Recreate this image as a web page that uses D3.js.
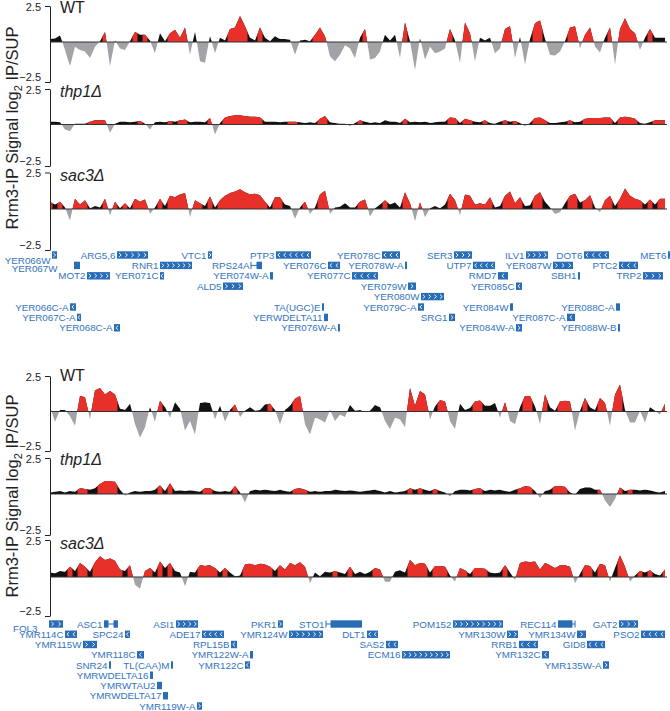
<!DOCTYPE html>
<html><head><meta charset="utf-8">
<script src="https://cdn.jsdelivr.net/npm/d3@7"></script>
<style>
body{margin:0;background:#fff}
svg{display:block;font-family:"Liberation Sans",Arial,Helvetica,sans-serif}
</style>
</head><body>
<svg id="c" width="670" height="711"></svg>
<script>
// ---------------- DATA ----------------
// Signal sampled every 5 units starting at position 50 (log2 IP/SUP)
const posStart = 50, posStep = 5;
const trackNames = ["WT", "thp1Δ", "sac3Δ"];
const tickValues = [-2.5, 2.5];

// Panel 1 (chromosome V region)
const wt1 = [0.2,0.25,0.45,-0.5,-1.5,-0.3,-0.5,-0.6,-1.0,-0.3,
  0.05,0.7,-1.5,0.1,-0.4,-0.5,0.05,0.7,0.5,0.5,
  0.1,-0.7,0.6,0.05,0.6,0.85,0.3,1.0,-0.8,0.7,
  -1.2,-1.3,0.4,-0.7,0.3,0.1,0.9,1.0,1.8,1.1,
  0.3,0.1,1.0,0.3,0.05,0.4,0.2,0.2,0.15,-0.8,
  0.1,0.15,0.05,0.5,1.0,0.4,-0.9,-1.2,-0.8,-0.2,
  -0.4,-1.0,0.3,0.9,-1.1,-1.0,-0.6,0.5,0.1,0.5,
  -1.0,1.35,0.05,-1.75,0.25,-1.1,-0.3,-0.7,-0.6,-0.4,
  0.9,0.1,-1.3,1.35,0.6,-1.2,0.3,0.1,0.3,-0.7,
  -0.4,0.9,1.1,-1.0,0.35,-1.4,0.2,1.3,1.5,0.2,
  -0.8,-0.85,-0.6,0.05,1.0,1.1,-0.4,0.5,1.0,-0.3,
  -0.65,0.3,1.0,-1.4,0.9,1.65,0.9,0.6,-0.5,0.3,
  0.9,0.3,0.3,0.3];
const wt1Sig = "kkk......." + "kr.k..krkr" + "k.kkrrrr.k" + "..k.kkrrrr" + "kkrkkkkkk." +
  "kkkrrr...." + "..kr...kkk" + ".rk.k....." + "rk.rr.kkk." + ".rr.k.krrk" +
  "...krr.rr." + ".kr.rrrr.k" + "rkkk";

const thp1 = [0.2,0.2,0.15,-0.3,-0.4,0.05,0.05,0.05,0.2,0.3,
  0.3,0.3,-0.5,0.05,0.2,0.2,0.15,0.2,0.25,0.05,
  -0.3,0.15,0.2,0.15,0.25,0.2,0.3,0.35,0.15,0.2,
  0.2,0.15,0.45,-0.6,0.1,0.5,0.6,0.65,0.65,0.6,
  0.55,0.55,0.5,0.2,0.2,0.2,0.15,0.2,0.2,0.2,
  0.15,0.1,0.15,0.1,0.4,0.6,0.15,0.1,0.05,0.05,
  -0.1,0.1,0.3,0.2,0.1,0.15,0.1,0.3,0.2,0.2,
  0.1,0.4,0.15,0.2,0.15,0.2,0.1,0.15,0.2,0.2,
  0.5,0.45,0.1,0.4,0.3,0.2,0.15,0.3,0.1,0.05,
  0.2,0.3,0.2,0.25,0.1,-0.1,0.1,0.45,0.5,0.3,
  0.1,0.1,0.15,0.2,0.3,0.15,0.2,0.4,0.45,0.45,
  0.45,0.5,0.5,0.1,0.5,0.55,0.5,0.4,0.1,0.05,
  0.15,0.3,0.3,0.3];
const thp1Sig = "kkk..kkkrr" + "rr.kkkkkrk" + ".kkkrkrrkk" + "kkr.krrrrr" + "rrrkkkkkrr" +
  "kkkkrrkkkk" + ".krkkkkkkk" + "krkkkkkkkk" + "rrkrrkkrkk" + "krkrk.krrr" +
  "kkkkrkkrrr" + "rrrkrrrrkk" + "krrr";

const sac1 = [0.5,0.3,0.5,0.1,-0.7,0.7,0.3,0.6,0.05,0.2,
  0.1,0.7,-0.4,0.5,0.05,0.4,0.05,0.7,0.5,0.65,
  -0.3,0.1,0.7,0.2,0.9,0.8,1.0,1.1,-0.5,0.6,
  0.4,0.2,0.85,0.1,0.6,0.9,1.1,1.2,1.35,1.15,
  1.0,1.05,0.95,0.5,0.1,0.8,0.8,0.3,0.2,-0.6,
  0.1,0.5,-0.3,0.1,1.0,1.25,-0.3,0.1,0.15,0.4,
  0.1,0.1,0.5,0.65,-0.45,0.05,0.3,0.6,0.3,0.45,
  0.1,1.15,0.4,-0.75,0.45,-0.5,0.05,0.2,0.05,0.3,
  1.05,0.6,-0.4,1.0,0.9,0.3,0.4,0.3,0.8,0.1,
  0.2,0.9,1.2,0.4,0.8,0.2,0.25,0.9,1.15,0.5,
  0.1,-0.3,-0.2,0.4,0.9,1.05,0.45,0.6,0.95,0.1,
  -0.2,0.6,0.9,0.2,0.7,1.4,0.9,0.7,0.6,0.3,
  0.65,0.3,0.7,0.7];
const sac1Sig = "rkrk.rrrkk" + "kr.rkrkrrr" + ".krkrrrr.r" + "rkrkrrrrrr" + "rrrrkrrkk." +
  "kr.krr.kkk" + "kkrr.kkrkk" + "krr.r.kkkk" + "rr.rrrrrrk" + "krrrrkkrrk" +
  "k..krrkrrk" + ".rrkrrrrrk" + "rkrr";

// Panel 2 (chromosome XIII region)
const wt2 = [0.3,-0.65,0.1,0.1,-0.3,-0.9,1.1,1.0,-0.5,1.5,
  1.65,1.2,1.45,1.2,0.2,0.1,0.55,-0.8,-1.65,-1.0,
  0.3,-0.65,0.75,0.3,-0.4,0.65,0.2,-1.2,-0.6,-1.45,
  0.6,0.65,0.6,-0.5,0.4,-0.65,0.1,0.5,-0.35,0.05,
  0.3,0.05,0.1,0.5,0.55,0.1,-0.8,0.1,0.4,0.9,
  1.1,-0.8,-1.45,-0.4,-0.5,-0.7,0.1,-0.6,-0.2,-0.35,
  0.45,0.05,0.1,-0.05,0.05,0.45,0.3,-0.6,-1.1,-0.4,
  -0.5,-1.0,1.65,0.4,1.45,1.2,-0.5,0.35,0.8,0.7,
  -0.6,-1.1,0.55,0.1,0.25,0.7,0.78,0.4,0.4,0.6,
  -0.4,0.65,-0.6,-0.8,0.3,1.1,1.1,0.35,-0.8,1.2,
  0.3,0.05,0.7,0.75,0.7,-1.2,0.05,0.95,0.3,0.1,
  0.95,0.6,-0.9,1.2,1.9,0.1,-0.7,-0.7,0.05,-0.7,
  0.3,0.05,-0.2,0.55];
const wt2Sig = "k.kk..rr.r" + "rrrrkkk..." + "k.rk.kk..." + "kkk.k.kr.k" + "kkkkrk.kkr" +
  "r.....k..." + "kkk.kkk..." + "..rrrr.krr" + "..kkkrrkkk" + ".r..krrk.r" +
  "kkrrr.krkk" + "rr.rrk..k." + "kk.r";

const thp2 = [0.1,0.15,0.2,0.1,0.2,0.15,0.4,0.35,0.3,0.4,
  0.7,0.9,0.9,0.85,0.3,-0.1,0.1,0.2,0.15,0.2,
  0.2,0.3,0.6,0.2,0.75,0.2,0.25,0.2,0.25,0.2,
  0.15,0.4,0.4,0.2,0.15,0.2,0.15,0.55,0.1,-0.5,
  0.2,0.3,0.25,0.3,0.25,0.2,0.3,0.2,0.15,0.35,
  0.4,0.3,0.15,0.2,0.15,0.2,0.2,0.3,0.25,0.2,
  0.25,0.2,0.15,0.2,0.25,0.3,0.2,0.1,0.2,0.1,
  0.15,0.2,0.4,0.3,0.4,0.3,0.2,0.35,0.2,0.1,
  -0.15,0.2,0.3,0.3,0.25,0.35,0.4,0.2,0.3,0.25,
  0.3,0.2,0.15,0.3,0.4,0.55,0.5,0.2,-0.25,0.2,
  0.3,0.55,0.55,0.5,0.1,-0.05,0.35,0.45,0.45,0.3,
  0.3,-0.4,-0.8,-0.3,0.45,0.2,0.3,0.3,0.25,0.3,
  0.25,0.15,0.1,0.2];
const thp2Sig = "kkkkkkrrkk" + "rrrrk.kkkk" + "kkrkrkkkkk" + "krrkkkkrk." + "kkkkkkkkkr" +
  "rrkkkkkkkk" + "kkkkkkkkkk" + "kkrkrkkrkk" + ".kkkkrrkkk" + "kkkkrrrk.k" +
  "krrrk.kkkk" + "r...rkrkkk" + "kkkk";

const sac2 = [0.3,0.25,0.4,0.35,0.7,0.4,0.95,0.7,0.35,1.0,
  1.4,1.15,1.25,1.1,0.5,0.4,0.8,-0.5,-0.75,0.4,
  0.6,0.3,1.05,0.6,0.95,0.4,0.3,-0.6,0.35,0.3,
  0.8,0.75,0.8,0.6,0.3,0.6,0.3,0.05,0.1,0.85,
  0.9,0.8,0.9,0.85,0.7,0.4,0.8,0.5,0.95,0.8,
  1.0,0.7,-0.4,0.3,0.05,0.35,0.3,0.4,0.3,0.2,
  0.7,0.2,0.35,0.2,0.35,0.6,0.5,-0.3,-0.3,0.35,
  0.45,0.3,1.15,0.8,0.95,0.9,0.3,0.75,0.75,0.7,
  0.1,-0.3,0.6,0.45,0.2,0.6,0.6,0.55,0.3,0.25,
  0.3,0.8,0.3,-0.2,0.95,1.05,1.0,1.05,0.5,0.95,
  0.8,0.6,0.8,0.8,0.7,-0.4,0.2,0.8,0.75,0.3,
  0.9,0.8,-0.3,0.6,1.45,0.7,-0.3,0.1,0.4,0.3,
  0.45,0.2,0.1,0.5];
const sac2Sig = "kkkkrkrrkr" + "rrrrrkr..r" + "rkrkrkk.kk" + "rrrrkrkkkr" + "rrrrrkrrrr" +
  "rr.kkkkrkk" + "rkkkkrr..k" + "kkrrrrkrrr" + "k.rrkrrrkk" + "krk.rrrrrr" +
  "rrrrr.krrk" + "rr.krr.krk" + "rkkr";

// Genes, panel 1
const g1Name   = ["YER066W","ARG5,6","VTC1","PTP3","YER078C","SER3","ILV1","DOT6","MET6",
  "YER067W","RNR1","RPS24A","YER076C","YER078W-A","UTP7","YER087W","PTC2",
  "MOT2","YER071C","YER074W-A","YER077C","RMD7","SBH1","TRP2",
  "ALD5","YER079W","YER085C","YER080W",
  "YER066C-A","TA(UGC)E","YER079C-A","YER084W","YER088C-A",
  "YER067C-A","YERWDELTA11","SRG1","YER087C-A",
  "YER068C-A","YER076W-A","YER084W-A","YER088W-B"];
const g1Start  = [52,117,208,276,382,454,526,584,668, 74,160,257,328,405,473,553,619,
  87,160,270,352,498,578,643, 223,408,516,421, 70,322,418,510,616, 77,324,449,567, 114,338,516,618];
const g1End    = [57,148,212,311,400,472,548,609,690, 80,192,262,340,407,495,573,638,
  110,164,273,378,508,580,663, 243,416,522,444, 76,324,424,513,620, 81,328,455,575, 120,340,522,620];
const g1Row    = [0,0,0,0,0,0,0,0,0, 1,1,1,1,1,1,1,1, 2,2,2,2,2,2,2, 3,3,3,4, 5,5,5,5,5, 6,6,6,6, 7,7,7,7];
const g1Strand = ["+","+","+","-","-","+","+","-","+", "","+","","-","","-","+","-",
  "+","-","","-","-","","+", "+","+","-","+", "-","","-","","", "-","","+","-", "-","","+",""];

// Genes, panel 2
const g2Name   = ["FOL3","ASC1","ASI1","PKR1","STO1","POM152","REC114","GAT2",
  "YMR114C","SPC24","ADE17","YMR124W","DLT1","YMR130W","YMR134W","PSO2",
  "YMR115W","RPL15B","SAS2","RRB1","GID8",
  "YMR118C","YMR122W-A","ECM16","YMR132C",
  "SNR24","TL(CAA)M","YMR122C","YMR135W-A",
  "YMRWDELTA16","YMRWTAU2","YMRWDELTA17","YMR119W-A"];
const g2Start  = [49,104,176,278,331,453,558,619, 65,125,202,289,367,507,577,641,
  83,231,386,519,587, 137,250,402,542, 109,171,245,603, 150,157,163,197];
const g2End    = [63,118,198,283,362,503,572,638, 77,130,224,323,378,518,586,665,
  97,237,398,538,605, 144,253,450,549, 111,173,250,609, 153,162,168,202];
const g2Row    = [0,0,0,0,0,0,0,0, 1,1,1,1,1,1,1,1, 2,2,2,2,2, 3,3,3,3, 4,4,4,4, 5,6,7,8];
const g2Strand = ["+","","+","+","","+","","+", "-","-","-","+","-","+","+","-",
  "+","-","-","-","-", "-","","+","-", "","","-","+", "","","","+"];

// intron / flanking thin segments (gene name -> [from, to])
const introns = {"RPS24A":[251,257], "ASC1":[108,114], "STO1":[326,331], "REC114":[572,575]};

// ---------------- LAYOUT / STYLE ----------------
const RED = "#e8302a", BLK = "#111111", GRY = "#a2a3a6", BLUE = "#2a6db7", BLUE_T = "#3374bf";
const panels = [
  { tracks: [ {top:6, base:42, bot:82, lab:13, vals:wt1, sig:wt1Sig},
              {top:89, base:124.5, bot:166, lab:97, vals:thp1, sig:thp1Sig},
              {top:172.5, base:209, bot:250, lab:181, vals:sac1, sig:sac1Sig} ],
    titleY: 128, geneY0: 255, geneDy: 10.4,
    genes: [g1Name, g1Start, g1End, g1Row, g1Strand] },
  { tracks: [ {top:376, base:411.5, bot:451, lab:381, vals:wt2, sig:wt2Sig},
              {top:458, base:494, bot:535, lab:465, vals:thp2, sig:thp2Sig},
              {top:540, base:577, bot:616, lab:549, vals:sac2, sig:sac2Sig} ],
    titleY: 496, geneY0: 624, geneDy: 10.25,
    genes: [g2Name, g2Start, g2End, g2Row, g2Strand] }
];
const labelShift = {"YER066W":[0,5], "YER067W":[-15,3], "FOL3":[-10,4]};

const svg = d3.select("#c");
const x = d3.scaleLinear().domain([0, 670]).range([0, 670]);

function densify(vals, sig) {
  const out = [];
  for (let i = 0; i < vals.length; i++) {
    const p = posStart + posStep * i, v = vals[i], c = sig[i];
    const isRed = v > 0 && c === "r";
    out.push({p, v, red: isRed});
    if (i < vals.length - 1) {
      const b = vals[i + 1], nRed = b > 0 && sig[i + 1] === "r";
      if (v * b < 0) {
        const t = v / (v - b);
        out.push({p: p + posStep * t, v: 0, red: isRed || nRed});
      } else {
        out.push({p: p + posStep / 2, v: (v + b) / 2, red: isRed || nRed});
      }
    }
  }
  return out;
}

panels.forEach(panel => {
  panel.tracks.forEach((t, ti) => {
    const y = d3.scaleLinear().domain([-2.5, 0, 2.5]).range([t.bot, t.base, t.top]);
    const pts = densify(t.vals, t.sig);
    const g = svg.append("g");
    g.append("path").datum(pts)
      .attr("d", d3.area().x(d => x(d.p)).y0(y(0)).y1(d => y(Math.max(0, d.v))))
      .attr("fill", BLK);
    g.append("path").datum(pts)
      .attr("d", d3.area().defined(d => d.red).x(d => x(d.p)).y0(y(0)).y1(d => y(Math.max(0, d.v))))
      .attr("fill", RED);
    g.append("path").datum(pts)
      .attr("d", d3.area().x(d => x(d.p)).y0(y(0)).y1(d => y(Math.min(0, d.v))))
      .attr("fill", GRY);
    g.append("line")
      .attr("x1", x(50)).attr("x2", x(667)).attr("y1", y(0)).attr("y2", y(0))
      .attr("stroke", "#333").attr("stroke-width", 1);
    const ax = g.append("g").attr("transform", `translate(${x(50)},0)`)
      .call(d3.axisLeft(y).tickValues(tickValues).tickSize(5).tickSizeOuter(0).tickFormat(d3.format(".1f")));
    ax.selectAll("text").attr("font-size", 11).attr("font-family", '"Liberation Sans",Arial,sans-serif')
      .attr("fill", "#222").attr("dx", "-1")
      .attr("dy", d => d < 0 ? "-0.12em" : "0.4em");
    ax.selectAll("line").attr("stroke", "#222");
    ax.select(".domain").attr("stroke", "#222");
    g.append("text").attr("x", 60).attr("y", t.lab)
      .attr("font-size", 16).attr("fill", "#222")
      .attr("font-style", ti === 0 ? "normal" : "italic")
      .text(trackNames[ti]);
  });

  // y-axis title
  const tt = svg.append("text")
    .attr("transform", `translate(18,${panel.titleY}) rotate(-90)`)
    .attr("text-anchor", "middle").attr("font-size", 16.5).attr("fill", "#222");
  tt.append("tspan").text("Rrm3-IP Signal log");
  tt.append("tspan").attr("font-size", 11).attr("dy", 4).text("2");
  tt.append("tspan").attr("dy", -4).text("\u00a0IP/SUP");

  // genes
  const [names, starts, ends, rows, strands] = panel.genes;
  const gg = svg.append("g");
  names.forEach((n, i) => {
    const cy = panel.geneY0 + rows[i] * panel.geneDy;
    const s = starts[i], e = ends[i];
    const x0 = x(s), x1 = x(e), w = x1 - x0;
    gg.append("rect").attr("x", x0).attr("y", cy - 3.7).attr("width", w).attr("height", 7.4).attr("fill", BLUE);
    let anchor = s;
    if (introns[n]) {
      const [a, b] = introns[n];
      anchor = Math.min(s, a);
      if (a >= s && b <= e) {
        gg.append("rect").attr("x", x(a)).attr("y", cy - 4).attr("width", x(b) - x(a)).attr("height", 8).attr("fill", "#fff");
      }
      gg.append("line").attr("x1", x(a)).attr("x2", x(b)).attr("y1", cy).attr("y2", cy).attr("stroke", BLUE).attr("stroke-width", 1);
      [a, b].forEach(q => gg.append("line").attr("x1", x(q)).attr("x2", x(q)).attr("y1", cy - 3.5).attr("y2", cy + 3.5).attr("stroke", BLUE).attr("stroke-width", 1));
    }
    if (strands[i] && w >= 4) {
      const nCh = Math.max(1, Math.floor(w / 5.3));
      const sp = w / nCh;
      for (let k = 0; k < nCh; k++) {
        const cx = x0 + sp * (k + 0.5);
        const dir = strands[i] === "+" ? 1 : -1;
        gg.append("path")
          .attr("d", `M${cx - dir * 1.1},${cy - 2} L${cx + dir * 1.1},${cy} L${cx - dir * 1.1},${cy + 2}`)
          .attr("fill", "none").attr("stroke", "#fff").attr("stroke-width", 0.9);
      }
    }
    const sh = labelShift[n] || [0, 0];
    gg.append("text").attr("x", x(anchor) - 1.5 + sh[0]).attr("y", cy + 3.6 + sh[1])
      .attr("text-anchor", "end").attr("font-size", 9.8).attr("fill", BLUE_T)
      .text(n);
  });
});
</script>
</body></html>
